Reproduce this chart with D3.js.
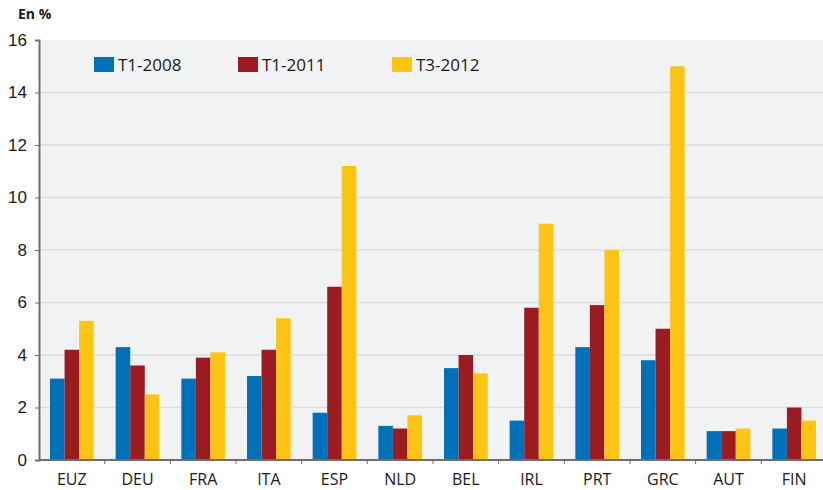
<!DOCTYPE html>
<html lang="fr">
<head>
    <meta charset="UTF-8">
    <title>En %</title>
    <script src="https://d3js.org/d3.v7.min.js"></script>
    <style>
        body { margin: 0; background: #fff; }
        svg { display: block; font-family: "Open Sans", "DejaVu Sans", sans-serif; }
        .tick text { fill: #1a1a1a; }
    </style>
</head>
<body>
    <div id="chart"></div>
    <script>
        // data
        const countries = ["EUZ", "DEU", "FRA", "ITA", "ESP", "NLD", "BEL", "IRL", "PRT", "GRC", "AUT", "FIN"];
        const seriesNames = ["T1-2008", "T1-2011", "T3-2012"];
        const t1_2008 = [3.1, 4.3, 3.1, 3.2, 1.8, 1.3, 3.5, 1.5, 4.3, 3.8, 1.1, 1.2];
        const t1_2011 = [4.2, 3.6, 3.9, 4.2, 6.6, 1.2, 4.0, 5.8, 5.9, 5.0, 1.1, 2.0];
        const t3_2012 = [5.3, 2.5, 4.1, 5.4, 11.2, 1.7, 3.3, 9.0, 8.0, 15.0, 1.2, 1.5];
        const yTicks = [0, 2, 4, 6, 8, 10, 12, 14, 16];
        const colors = ["#0070b8", "#9a1b20", "#fec414"];

        const allSeries = [t1_2008, t1_2011, t3_2012];
        const data = countries.map((c, i) => ({
            country: c,
            values: seriesNames.map((s, j) => ({ key: s, value: allSeries[j][i] }))
        }));

        const width = 823, height = 490;
        const margin = { top: 40, left: 39, bottom: 30 };
        const plotW = 788; // last band runs past the right edge
        const plotH = height - margin.top - margin.bottom;

        const svg = d3.select("#chart").append("svg")
            .attr("width", width)
            .attr("height", height);

        const g = svg.append("g")
            .attr("transform", "translate(" + margin.left + "," + margin.top + ")");

        const x0 = d3.scaleBand()
            .domain(countries)
            .range([0, plotW])
            .paddingInner(0.335)
            .paddingOuter(0.1675);

        const x1 = d3.scaleBand()
            .domain(seriesNames)
            .range([0, x0.bandwidth()]);

        const y = d3.scaleLinear()
            .domain([0, 16])
            .range([plotH, 0]);

        // background
        g.append("rect")
            .attr("width", width - margin.left)
            .attr("height", plotH)
            .attr("fill", "#f1f2f4");

        // gridlines
        g.selectAll(".grid")
            .data(yTicks.filter(d => d > 0 && d < 16))
            .enter()
            .append("line")
            .attr("x1", 0)
            .attr("x2", width - margin.left)
            .attr("y1", d => y(d))
            .attr("y2", d => y(d))
            .attr("stroke", "#dcdde0")
            .attr("stroke-width", 1.5);

        // bars
        const groups = g.selectAll(".group")
            .data(data)
            .enter()
            .append("g")
            .attr("transform", d => "translate(" + x0(d.country) + ",0)");

        groups.selectAll("rect")
            .data(d => d.values)
            .enter()
            .append("rect")
            .attr("x", d => x1(d.key))
            .attr("width", x1.bandwidth())
            .attr("y", d => y(d.value))
            .attr("height", d => plotH - y(d.value))
            .attr("fill", (d, i) => colors[i]);

        // y axis
        const yAxis = g.append("g")
            .call(d3.axisLeft(y).tickValues(yTicks).tickSize(4).tickPadding(8));
        yAxis.select(".domain").attr("stroke", "#6e6e6e").attr("stroke-width", 2);
        yAxis.selectAll(".tick line").attr("stroke", "#6e6e6e");
        yAxis.selectAll(".tick text").style("font-size", "17px");

        // x axis
        const step = x0.step();
        const xAxisG = g.append("g")
            .attr("transform", "translate(0," + plotH + ")");
        xAxisG.append("line")
            .attr("x1", 0)
            .attr("x2", width - margin.left)
            .attr("stroke", "#6e6e6e")
            .attr("stroke-width", 2);
        xAxisG.selectAll(".xtick")
            .data(countries.slice(1))
            .enter()
            .append("line")
            .attr("x1", d => x0(d) - step * x0.paddingInner() / 2)
            .attr("x2", d => x0(d) - step * x0.paddingInner() / 2)
            .attr("y1", 0)
            .attr("y2", 4)
            .attr("stroke", "#6e6e6e");
        xAxisG.selectAll(".xlabel")
            .data(countries)
            .enter()
            .append("text")
            .attr("x", d => x0(d) + x0.bandwidth() / 2)
            .attr("y", 25)
            .attr("text-anchor", "middle")
            .style("font-size", "16px")
            .attr("fill", "#1a1a1a")
            .text(d => d);

        // unit label
        svg.append("text")
            .attr("x", 18)
            .attr("y", 19)
            .style("font-size", "14px")
            .style("font-weight", "bold")
            .attr("fill", "#1a1a1a")
            .text("En %");

        // legend
        const legendX = [94, 238, 392];
        const legend = svg.selectAll(".legend")
            .data(seriesNames)
            .enter()
            .append("g")
            .attr("transform", (d, i) => "translate(" + legendX[i] + ",57)");
        legend.append("rect")
            .attr("width", 20)
            .attr("height", 15)
            .attr("fill", (d, i) => colors[i]);
        legend.append("text")
            .attr("x", 24)
            .attr("y", 14)
            .style("font-size", "17px")
            .attr("fill", "#1a1a1a")
            .text(d => d);
    </script>
</body>
</html>
